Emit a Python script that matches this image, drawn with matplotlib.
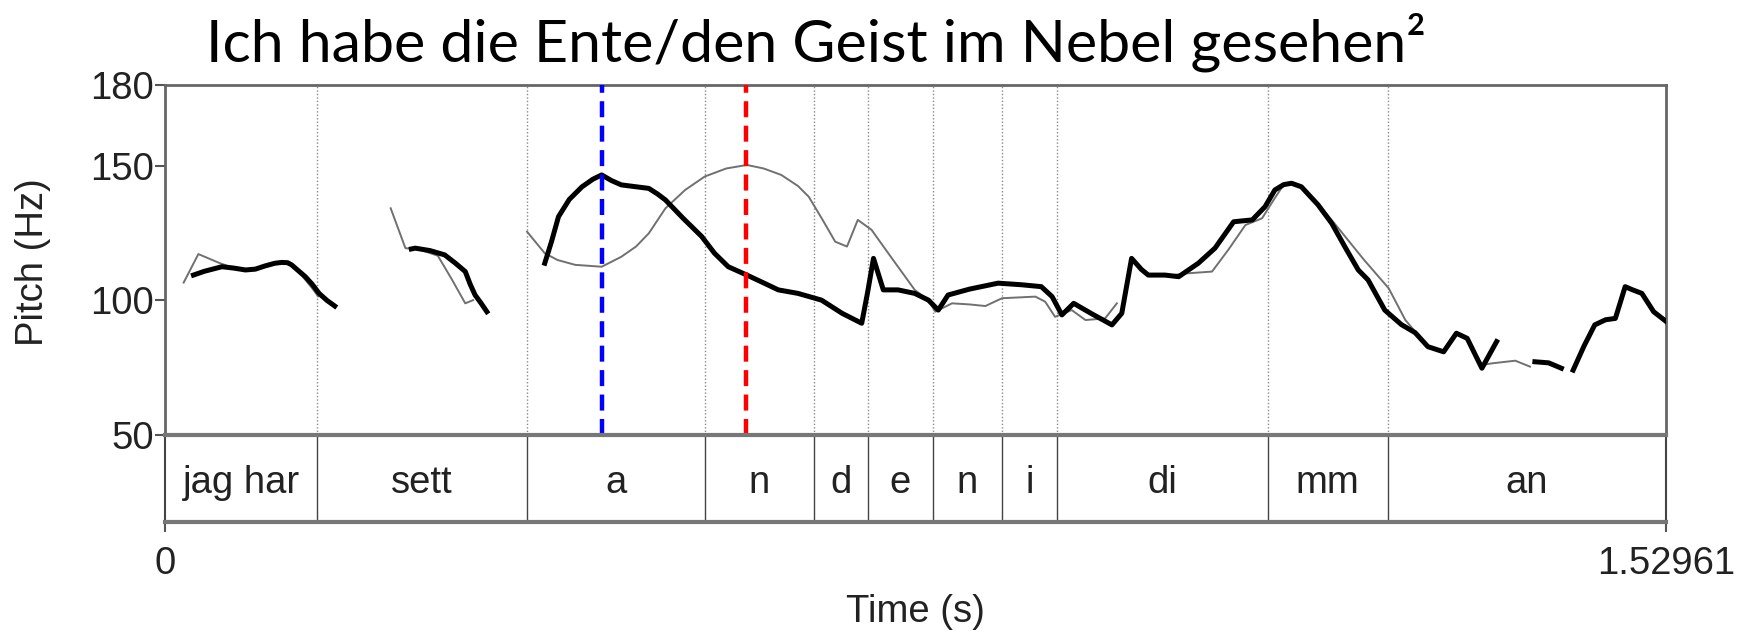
import numpy as np
import matplotlib
matplotlib.use('Agg')
import matplotlib.pyplot as plt
from matplotlib import rcParams

rcParams['font.family'] = ['Liberation Sans', 'DejaVu Sans']

nan = np.nan

# 标题与坐标轴文字
title = 'Ich habe die Ente/den Geist im Nebel gesehen²'
x_label = 'Time (s)'
y_label = 'Pitch (Hz)'
t_end = 1.52961
y_ticks = [50, 100, 150, 180]

# 音段边界（秒）与音段标签
boundaries = [0.1553, 0.3685, 0.5499, 0.661, 0.7166, 0.7823, 0.8526, 0.9093, 1.1236, 1.246]
segment_labels = ['jag har', 'sett', 'a', 'n', 'd', 'e', 'n', 'i', 'di', 'mm', 'an']

# 蓝/红虚线位置
blue_time = 0.4456
red_time = 0.5918

# 粗线（音高曲线 1），nan 表示断开
bold_t = [0.029, 0.040, 0.058, 0.070, 0.082, 0.092, 0.102, 0.112, 0.119, 0.125, 0.129, 0.136, 0.143,
          0.150, 0.157, 0.165, 0.173, nan,
          0.251, 0.255, 0.270, 0.285, 0.296, 0.306, 0.311, 0.316, 0.322, 0.328, nan,
          0.387, 0.394, 0.401, 0.412, 0.425, 0.436, 0.445, 0.455, 0.465, 0.480, 0.493, 0.502, 0.510,
          0.528, 0.547, 0.560, 0.574, 0.593, 0.610, 0.625, 0.645, 0.669, 0.690, 0.710, 0.716, 0.722,
          0.732, 0.747, 0.764, 0.778, 0.788, 0.798, 0.820, 0.849, 0.873, 0.893, 0.904, 0.914, 0.926,
          0.945, 0.965, 0.975, 0.985, 0.995, 1.002, 1.019, 1.033, 1.053, 1.070, 1.089, 1.108, 1.121,
          1.131, 1.140, 1.148, 1.158, 1.175, 1.189, 1.203, 1.216, 1.226, 1.243, 1.260, 1.274, 1.287,
          1.303, 1.316, 1.327, 1.342, 1.357, nan,
          1.396, 1.410, 1.423, nan,
          1.435, 1.446, 1.457, 1.468, 1.478, 1.488, 1.495, 1.505, 1.517, 1.530]
bold_hz = [109.4, 110.8, 112.5, 112.0, 111.3, 111.6, 112.8, 113.8, 114.1, 114.0, 113.2, 111.0, 108.8,
           106.0, 102.6, 100.0, 97.9, nan,
           119.1, 119.4, 118.5, 116.9, 113.8, 110.7, 106.0, 102.0, 99.0, 95.8, nan,
           113.8, 122.0, 131.1, 137.5, 142.2, 145.0, 146.6, 144.5, 142.9, 142.2, 141.6, 139.5, 137.3,
           130.5, 123.7, 117.5, 112.5, 109.4, 106.5, 103.9, 102.6, 100.1, 95.2, 91.5, 103.0, 115.6,
           103.9, 103.9, 102.6, 100.1, 96.4, 102.0, 104.2, 106.4, 105.8, 105.1, 101.4, 94.6, 98.9,
           94.9, 90.9, 95.2, 115.6, 111.5, 109.4, 109.4, 108.8, 113.8, 119.4, 129.2, 129.9, 134.8,
           141.0, 143.0, 143.5, 142.2, 135.5, 128.6, 119.5, 111.3, 107.6, 96.4, 91.0, 88.0, 82.8,
           80.9, 87.8, 85.9, 74.8, 84.7, nan,
           77.2, 76.8, 74.8, nan,
           74.1, 83.0, 90.9, 92.8, 93.3, 105.1, 104.0, 102.6, 95.8, 92.1]

# 细线（音高曲线 2）
thin_t = [0.019, 0.034, 0.045, 0.056, 0.070, 0.082, 0.092, 0.102, 0.112, 0.119, 0.129, 0.140, 0.150,
          0.156, nan,
          0.230, 0.245, 0.260, 0.278, 0.292, 0.306, 0.314, nan,
          0.369, 0.387, 0.400, 0.418, 0.445, 0.465, 0.480, 0.493, 0.510, 0.530, 0.550, 0.572, 0.593,
          0.610, 0.628, 0.645, 0.656, 0.670, 0.683, 0.695, 0.706, 0.720, 0.742, 0.764, 0.778, 0.785,
          0.802, 0.820, 0.836, 0.853, 0.887, 0.897, 0.907, 0.924, 0.938, 0.958, 0.970, nan,
          1.002, 1.019, 1.040, 1.067, 1.084, 1.101, 1.118, 1.131, 1.140, 1.148, 1.158, 1.175, 1.196,
          1.222, 1.247, 1.264, 1.274, 1.287, 1.303, 1.316, 1.327, 1.342, 1.352, 1.376, 1.391, nan,
          1.457, 1.468, 1.478, 1.488, 1.495, 1.505, 1.517, 1.530]
thin_hz = [106.6, 117.2, 115.5, 113.8, 112.0, 111.3, 111.6, 112.8, 113.8, 114.1, 113.0, 109.0, 104.5,
           101.5, nan,
           134.2, 119.4, 118.8, 116.6, 108.0, 98.9, 100.1, nan,
           125.5, 117.5, 115.0, 113.2, 112.5, 116.2, 120.0, 124.9, 134.2, 141.0, 146.0, 149.0, 150.3,
           149.0, 146.6, 142.5, 138.5, 130.0, 121.8, 120.0, 129.9, 126.2, 115.0, 103.9, 100.0, 95.8,
           98.9, 98.5, 97.9, 100.8, 101.4, 99.5, 93.9, 96.4, 92.7, 93.3, 98.9, nan,
           109.4, 109.0, 110.0, 110.7, 119.0, 128.0, 130.5, 138.0, 143.0, 143.5, 142.2, 136.0, 126.7,
           115.0, 104.5, 92.7, 88.4, 82.8, 80.9, 87.8, 85.9, 76.0, 76.6, 77.6, 75.4, nan,
           90.9, 92.8, 93.3, 105.1, 104.0, 102.6, 95.8, 92.1]

W, H = 1745, 631
fig = plt.figure(figsize=(W / 100, H / 100), dpi=100)
fs = 27.5  # 坐标轴文字字号

# 音高区域
ax = fig.add_axes([165 / W, 1 - 435 / H, 1501 / W, 350 / H])
ax.set_xlim(0, t_end)
ax.set_ylim(50, 180)

for b in boundaries:
    ax.axvline(b, color='#8a8a8a', lw=1, ls=(0, (1, 1.5)))

ax.plot(thin_t, thin_hz, color='#707070', lw=1.4, zorder=3)
ax.plot(bold_t, bold_hz, color='black', lw=3.6, solid_joinstyle='round', zorder=4)

ax.axvline(blue_time, color='#0000ff', lw=3.2, dashes=(3.6, 1.9), zorder=5)
ax.axvline(red_time, color='#ff0000', lw=3.2, dashes=(3.6, 1.9), zorder=5)

ax.set_yticks(y_ticks)
ax.set_xticks([])
ax.tick_params(axis='y', labelsize=fs, length=7, width=1.5, color='#555555', labelcolor='#222222', pad=1)
for side in ['left', 'right', 'top']:
    ax.spines[side].set_color('#666666')
    ax.spines[side].set_linewidth(2)
ax.spines['bottom'].set_visible(False)

# 音段层
tier = fig.add_axes([165 / W, 1 - 522 / H, 1501 / W, 87 / H])
tier.set_xlim(0, t_end)
tier.set_ylim(0, 1)
tier.set_yticks([])
for b in boundaries:
    tier.axvline(b, color='#444444', lw=1)
edges = [0] + boundaries + [t_end]
for i, lab in enumerate(segment_labels):
    tier.text((edges[i] + edges[i + 1]) / 2, 0.45, lab, ha='center', va='center',
              fontsize=fs, color='#222222')
for side in ['left', 'right']:
    tier.spines[side].set_color('#444444')
    tier.spines[side].set_linewidth(1.5)
for side in ['top', 'bottom']:
    tier.spines[side].set_color('#777777')
    tier.spines[side].set_linewidth(3)
tier.set_xticks([0, t_end])
tier.set_xticklabels(['0', '1.52961'])
tier.tick_params(axis='x', labelsize=fs, length=7, width=1.5, color='#555555', labelcolor='#222222', pad=10)

# 轴标题与图标题
fig.text(915 / W, 1 - 612 / H, x_label, ha='center', va='center', fontsize=fs, color='#222222')
fig.text(33 / W, 1 - 262 / H, y_label, ha='center', va='center', rotation=90, fontsize=fs, color='#222222')
fig.text(206 / W, 1 - 61 / H, title, ha='left', va='baseline', fontsize=42.6,
         family=['Lato', 'DejaVu Sans'], color='black')

fig.savefig('out.png', dpi=100)
